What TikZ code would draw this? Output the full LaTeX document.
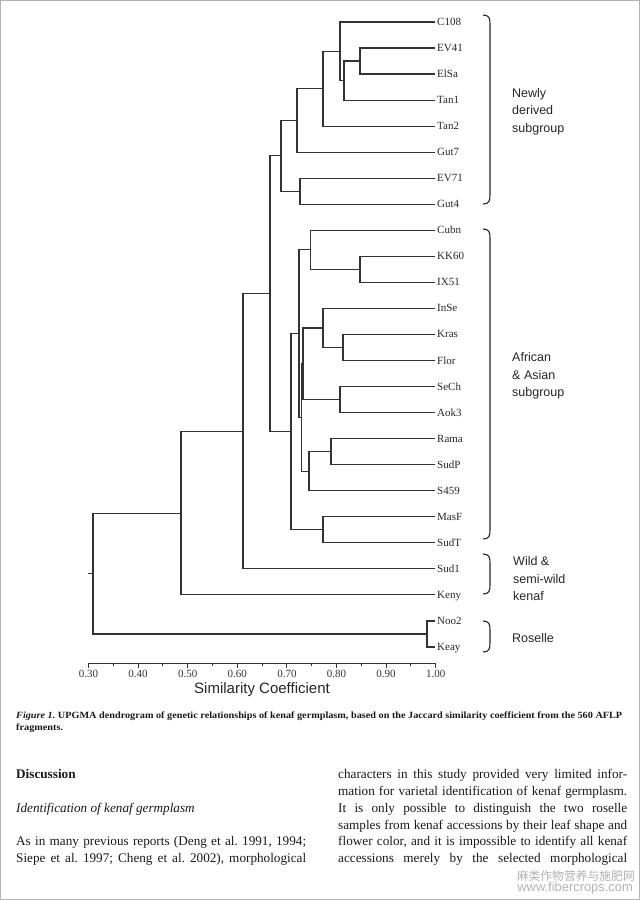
\documentclass[tikz,border=0pt]{standalone}
\usepackage{fontspec}
\setmainfont{Liberation Serif}
\newfontfamily\arial{Liberation Sans}
\newfontfamily\cjk{Noto Sans CJK SC}
\usepackage{graphicx}
\usetikzlibrary{calc}
\frenchspacing
\newcommand\cjoin[4]{%
  \coordinate (#1m) at ($(#3)!0.5!(#4)$);
  \coordinate (#1) at (#2,0 |- #1m);
  \draw[branch] (#3) -| (#1) |- (#4);}
\newcommand\gbrace[2]{%
  \draw[brace] (483,#1) .. controls (489,#1) and (490,#1+3) .. (490,#1+9)
    -- (490,#2-9) .. controls (490,#2-3) and (489,#2) .. (483,#2);}
\newlength\capw
\newcommand\capfont{\fontsize{9.5}{9.5}\selectfont\bfseries}
\newcommand\capone{\textit{Figure 1.} UPGMA dendrogram of genetic relationships of kenaf germplasm, based on the Jaccard similarity coefficient from the 560 AFLP}
\begin{document}%
\settowidth\capw{\capfont\capone}%
\pgfmathsetmacro\capr{606/\capw}%
\begin{tikzpicture}[x=1pt,y=-1pt,
  branch/.style={draw=black!80, line width=1.2pt},
  leaf/.style={anchor=west, inner xsep=2pt, inner ysep=0pt, text height=7pt, text depth=0pt,
    font=\fontsize{11}{11}\selectfont, text=black!85},
  grp/.style={anchor=base west, inner sep=0pt, font=\arial\fontsize{12.5}{12.5}\selectfont, text=black!85},
  brace/.style={draw=black!85, line width=1.1pt},
  tick/.style={draw=black!80, line width=1pt},
  ticklab/.style={anchor=base, inner sep=0pt, font=\fontsize{11}{11}\selectfont, text=black!80},
  body/.style={anchor=base west, inner sep=0pt, font=\fontsize{13.2}{13.2}\selectfont, text=black!90},
  wm/.style={anchor=base east, inner sep=0pt, text=black!30},
]
\useasboundingbox (0,0) rectangle (640,900);
\draw[black!30, line width=1pt] (0.5,0.5) rectangle (639.5,899.5);

% leaves
\foreach \n [count=\i from 0] in {C108,EV41,ElSa,Tan1,Tan2,Gut7,EV71,Gut4,Cubn,KK60,IX51,InSe,Kras,Flor,SeCh,Aok3,Rama,SudP,S459,MasF,SudT,Sud1,Keny,Noo2,Keay}
  \node[leaf] (\n) at (435,{22+26.04*\i}) {\n};

% newly derived subgroup
\cjoin{a1}{360}{EV41.west}{ElSa.west}
\cjoin{a2}{344}{a1}{Tan1.west}
\cjoin{a3}{340}{C108.west}{a2}
\cjoin{a4}{323}{a3}{Tan2.west}
\cjoin{a5}{297}{a4}{Gut7.west}
\cjoin{a6}{300}{EV71.west}{Gut4.west}
\cjoin{a7}{281}{a5}{a6}
% African & Asian subgroup
\cjoin{b1}{360}{KK60.west}{IX51.west}
\cjoin{b2}{310.5}{Cubn.west}{b1}
\cjoin{b3}{343}{Kras.west}{Flor.west}
\cjoin{b4}{323}{InSe.west}{b3}
\cjoin{b5}{340}{SeCh.west}{Aok3.west}
\cjoin{b6}{303}{b4}{b5}
\cjoin{b7}{331}{Rama.west}{SudP.west}
\cjoin{b8}{309}{b7}{S459.west}
\cjoin{b9}{301.5}{b6}{b8}
\cjoin{b10}{299}{b2}{b9}
\cjoin{b11}{323}{MasF.west}{SudT.west}
\cjoin{b12}{291}{b10}{b11}
% upper levels
\cjoin{c1}{270}{a7}{b12}
\cjoin{c2}{243}{c1}{Sud1.west}
\cjoin{c3}{181}{c2}{Keny.west}
\cjoin{c4}{427}{Noo2.west}{Keay.west}
\cjoin{c5}{93}{c3}{c4}
\coordinate (stub) at (88,0 |- c5);
\draw[branch] (c5) -- (stub);

% axis
\draw[tick] (88.5,663) -- (435.7,663);
\foreach \k/\lab in {0/0.30,1/0.40,2/0.50,3/0.60,4/0.70,5/0.80,6/0.90,7/1.00}{
  \draw[tick] ({88.5+49.6*\k},663) -- ++(0,5);
  \node[ticklab] (t\k) at ({88.5+49.6*\k},677.5) {\lab};
}
\foreach \k in {0,...,6}
  \draw[tick] ({88.5+49.6*\k+24.8},663) -- ++(0,3);
\node[font=\arial\fontsize{15}{15}\selectfont, text=black!85, inner sep=0pt] (axtitle) at (262,689.5) {Similarity Coefficient};

% group braces and labels
\gbrace{15}{204}
\gbrace{229}{539}
\gbrace{554}{594}
\gbrace{621}{652}
\node[grp] (g1a) at (512,97) {Newly};
\node[grp] (g1b) at (512,114.5) {derived};
\node[grp] (g1c) at (512,132) {subgroup};
\node[grp] (g2a) at (512,361.5) {African};
\node[grp] (g2b) at (512,379) {\& Asian};
\node[grp] (g2c) at (512,396.5) {subgroup};
\node[grp] (g3a) at (513,565.5) {Wild \&};
\node[grp] (g3b) at (513,583) {semi-wild};
\node[grp] (g3c) at (513,600.5) {kenaf};
\node[grp] (g4a) at (512,642) {Roselle};

% caption
\node[anchor=base west, inner sep=0pt, text=black!90] (cap1) at (16,718.3) {\scalebox{\capr}[1]{\capfont\capone}};
\node[anchor=base west, inner sep=0pt, text=black!90] (cap2) at (16,730.8) {\scalebox{\capr}[1]{\capfont fragments.}};

% body text
\node[body, font=\fontsize{13.2}{13.2}\selectfont\bfseries] (disc) at (16,778.5) {Discussion};
\node[body, font=\fontsize{13.2}{13.2}\selectfont\itshape] (ident) at (16,812.2) {Identification of kenaf germplasm};
\node[body] (l1) at (16,845.9) {\makebox[290pt][s]{As in many previous reports (Deng et al. 1991, 1994;}};
\node[body] (l2) at (16,862.7) {\makebox[290pt][s]{Siepe et al. 1997; Cheng et al. 2002), morphological}};
\node[body] (r1) at (338,778.5) {\makebox[289pt][s]{characters in this study provided very limited infor-}};
\node[body] (r2) at (338,795.3) {\makebox[289pt][s]{mation for varietal identification of kenaf germplasm.}};
\node[body] (r3) at (338,812.2) {\makebox[289pt][s]{It is only possible to distinguish the two roselle}};
\node[body] (r4) at (338,829) {\makebox[289pt][s]{samples from kenaf accessions by their leaf shape and}};
\node[body] (r5) at (338,845.9) {\makebox[289pt][s]{flower color, and it is impossible to identify all kenaf}};
\node[body] (r6) at (338,862.7) {\makebox[289pt][s]{accessions merely by the selected morphological}};

% watermark
\node[wm, font=\cjk\fontsize{11.8}{11.8}\selectfont] (wm1) at (635,880.5) {麻类作物营养与施肥网};
\node[wm, font=\arial\fontsize{12.9}{12.9}\selectfont] (wm2) at (633,891.5) {www.fibercrops.com};
\end{tikzpicture}
\end{document}
